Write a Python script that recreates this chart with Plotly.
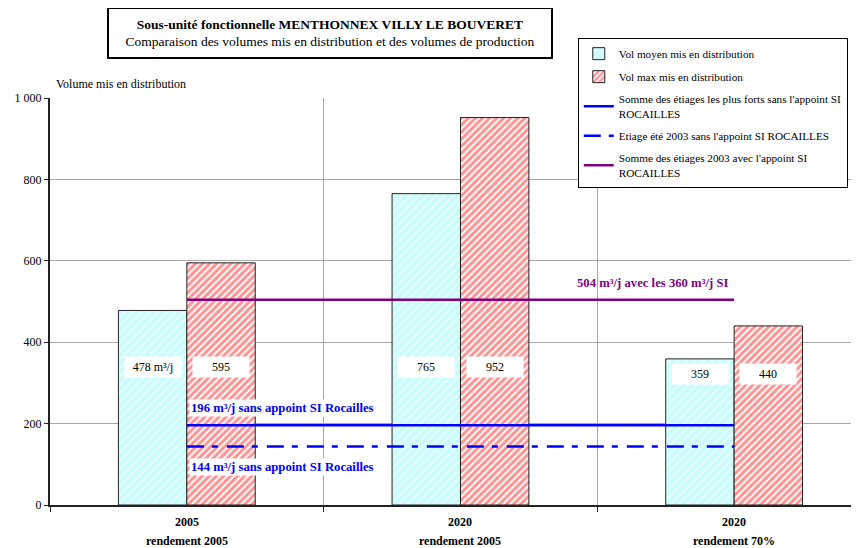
import plotly.graph_objects as go

# ---- data ----
categories = ["2005", "2020", "2020"]
subtitles = ["rendement 2005", "rendement 2005", "rendement 70%"]
vol_moyen = [478, 765, 359]
vol_max = [595, 952, 440]
moyen_labels = ["478 m³/j", "765", "359"]
max_labels = ["595", "952", "440"]
somme_forts = 196
etiage_2003 = 144
somme_2003_avec = 504
y_ticks = [0, 200, 400, 600, 800, 1000]
y_ticktext = ["0", "200", "400", "600", "800", "1 000"]

FONT = "'Liberation Serif', 'Times New Roman', serif"
x_idx = list(range(len(categories)))
label_y = [340, 340, 322]

fig = go.Figure()

fig.add_trace(go.Bar(
    x=x_idx, y=vol_moyen, name="Vol moyen mis en distribution",
    marker=dict(color="#c9fcfc", line=dict(color="#222", width=1),
                pattern=dict(shape="/", bgcolor="#c9fcfc", fgcolor="white",
                             size=6, solidity=0.4)),
    legendgroup="a",
))
fig.add_trace(go.Bar(
    x=x_idx, y=vol_max, name="Vol max mis en distribution",
    marker=dict(color="white", line=dict(color="#222", width=1),
                pattern=dict(shape="/", bgcolor="white", fgcolor="#ff2828",
                             size=5, solidity=0.6)),
    legendgroup="b",
))

x_line = [x_idx[0], x_idx[-1]]
fig.add_trace(go.Scatter(
    x=x_line, y=[somme_forts] * 2, mode="lines",
    name="Somme des étiages les plus forts sans l'appoint SI<br>ROCAILLES",
    line=dict(color="#0000ff", width=2.5), legendgroup="c",
))
fig.add_trace(go.Scatter(
    x=x_line, y=[etiage_2003] * 2, mode="lines",
    name="Etiage été 2003 sans l'appoint SI ROCAILLES",
    line=dict(color="#0000ff", width=2.5, dash="17px,8px,6px,9px"), legendgroup="d",
))
fig.add_trace(go.Scatter(
    x=x_line, y=[somme_2003_avec] * 2, mode="lines",
    name="Somme des étiages 2003 avec l'appoint SI<br>ROCAILLES",
    line=dict(color="#800080", width=2.5), legendgroup="e",
))

annotations = []
# bar value labels
for i in x_idx:
    annotations.append(dict(x=i - 0.125, y=label_y[i], text=moyen_labels[i], showarrow=False,
                            bgcolor="white", width=54, height=18,
                            font=dict(family=FONT, size=12, color="black")))
    annotations.append(dict(x=i + 0.125, y=label_y[i], text=max_labels[i], showarrow=False,
                            bgcolor="white", width=54, height=18,
                            font=dict(family=FONT, size=12, color="black")))
# category labels
for i in x_idx:
    annotations.append(dict(x=i, y=-0.042, yref="paper", yanchor="middle", xanchor="center",
                            text="<b>%s</b>" % categories[i],
                            showarrow=False, font=dict(family=FONT, size=12, color="black")))
    annotations.append(dict(x=i, y=-0.088, yref="paper", yanchor="middle", xanchor="center",
                            text="<b>%s</b>" % subtitles[i],
                            showarrow=False, font=dict(family=FONT, size=12, color="black")))
# line labels
annotations.append(dict(x=0, y=238, xanchor="left", yanchor="middle",
                        text="<b>%d m³/j sans appoint SI Rocailles</b>" % somme_forts,
                        showarrow=False, bgcolor="white", xshift=2,
                        font=dict(family=FONT, size=12.7, color="#0000ff")))
annotations.append(dict(x=0, y=93, xanchor="left", yanchor="middle",
                        text="<b>%d m³/j sans appoint SI Rocailles</b>" % etiage_2003,
                        showarrow=False, bgcolor="white", xshift=2,
                        font=dict(family=FONT, size=12.7, color="#0000ff")))
annotations.append(dict(x=1.70, y=545, xanchor="center", yanchor="middle",
                        text="<b>%d m³/j avec les 360 m³/j SI</b>" % somme_2003_avec,
                        showarrow=False, font=dict(family=FONT, size=12.7, color="#800080")))
# axis title
annotations.append(dict(x=0.005, xref="paper", y=1.012, yref="paper", xanchor="left", yanchor="bottom",
                        text="Volume mis en distribution", showarrow=False,
                        font=dict(family=FONT, size=12, color="black")))
# title box
annotations.append(dict(x=0.347, xref="paper", y=1.16, yref="paper",
                        xanchor="center", yanchor="middle",
                        text="<b>Sous-unité fonctionnelle MENTHONNEX VILLY LE BOUVERET</b><br>"
                             "Comparaison des volumes mis en distribution et des volumes de production",
                        showarrow=False, width=438, height=44, borderpad=2,
                        bordercolor="black", borderwidth=2, bgcolor="white",
                        font=dict(family=FONT, size=13.5, color="black")))

fig.update_layout(
    width=851, height=540,
    margin=dict(l=42, r=2, t=90, b=43, autoexpand=False),
    paper_bgcolor="white", plot_bgcolor="white",
    barmode="group", bargap=0.5, bargroupgap=0,
    font=dict(family=FONT, size=12, color="black"),
    showlegend=True,
    legend=dict(x=0.654, y=1.147, xanchor="left", yanchor="top",
                bordercolor="black", borderwidth=1, bgcolor="white",
                font=dict(family=FONT, size=11.2, color="black"),
                tracegroupgap=4, traceorder="grouped", itemwidth=30),
    annotations=annotations,
    xaxis=dict(range=[-0.5, 2.449], tickvals=x_idx, ticktext=["", "", ""], ticks="",
               showgrid=False, showline=True, linecolor="#222", linewidth=2, zeroline=False,
               minor=dict(tick0=0.5, dtick=1, ticks="outside", ticklen=5, tickcolor="#222",
                          showgrid=True, gridcolor="#a8a8a8", gridwidth=1)),
    yaxis=dict(range=[0, 1000], tickvals=y_ticks, ticktext=y_ticktext,
               ticks="outside", ticklen=4, tickcolor="#222",
               showgrid=True, gridcolor="#a8a8a8", gridwidth=1,
               showline=True, linecolor="#222", linewidth=2, zeroline=False,
               tickfont=dict(family=FONT, size=12, color="black")),
)

fig.write_html("out.html")
